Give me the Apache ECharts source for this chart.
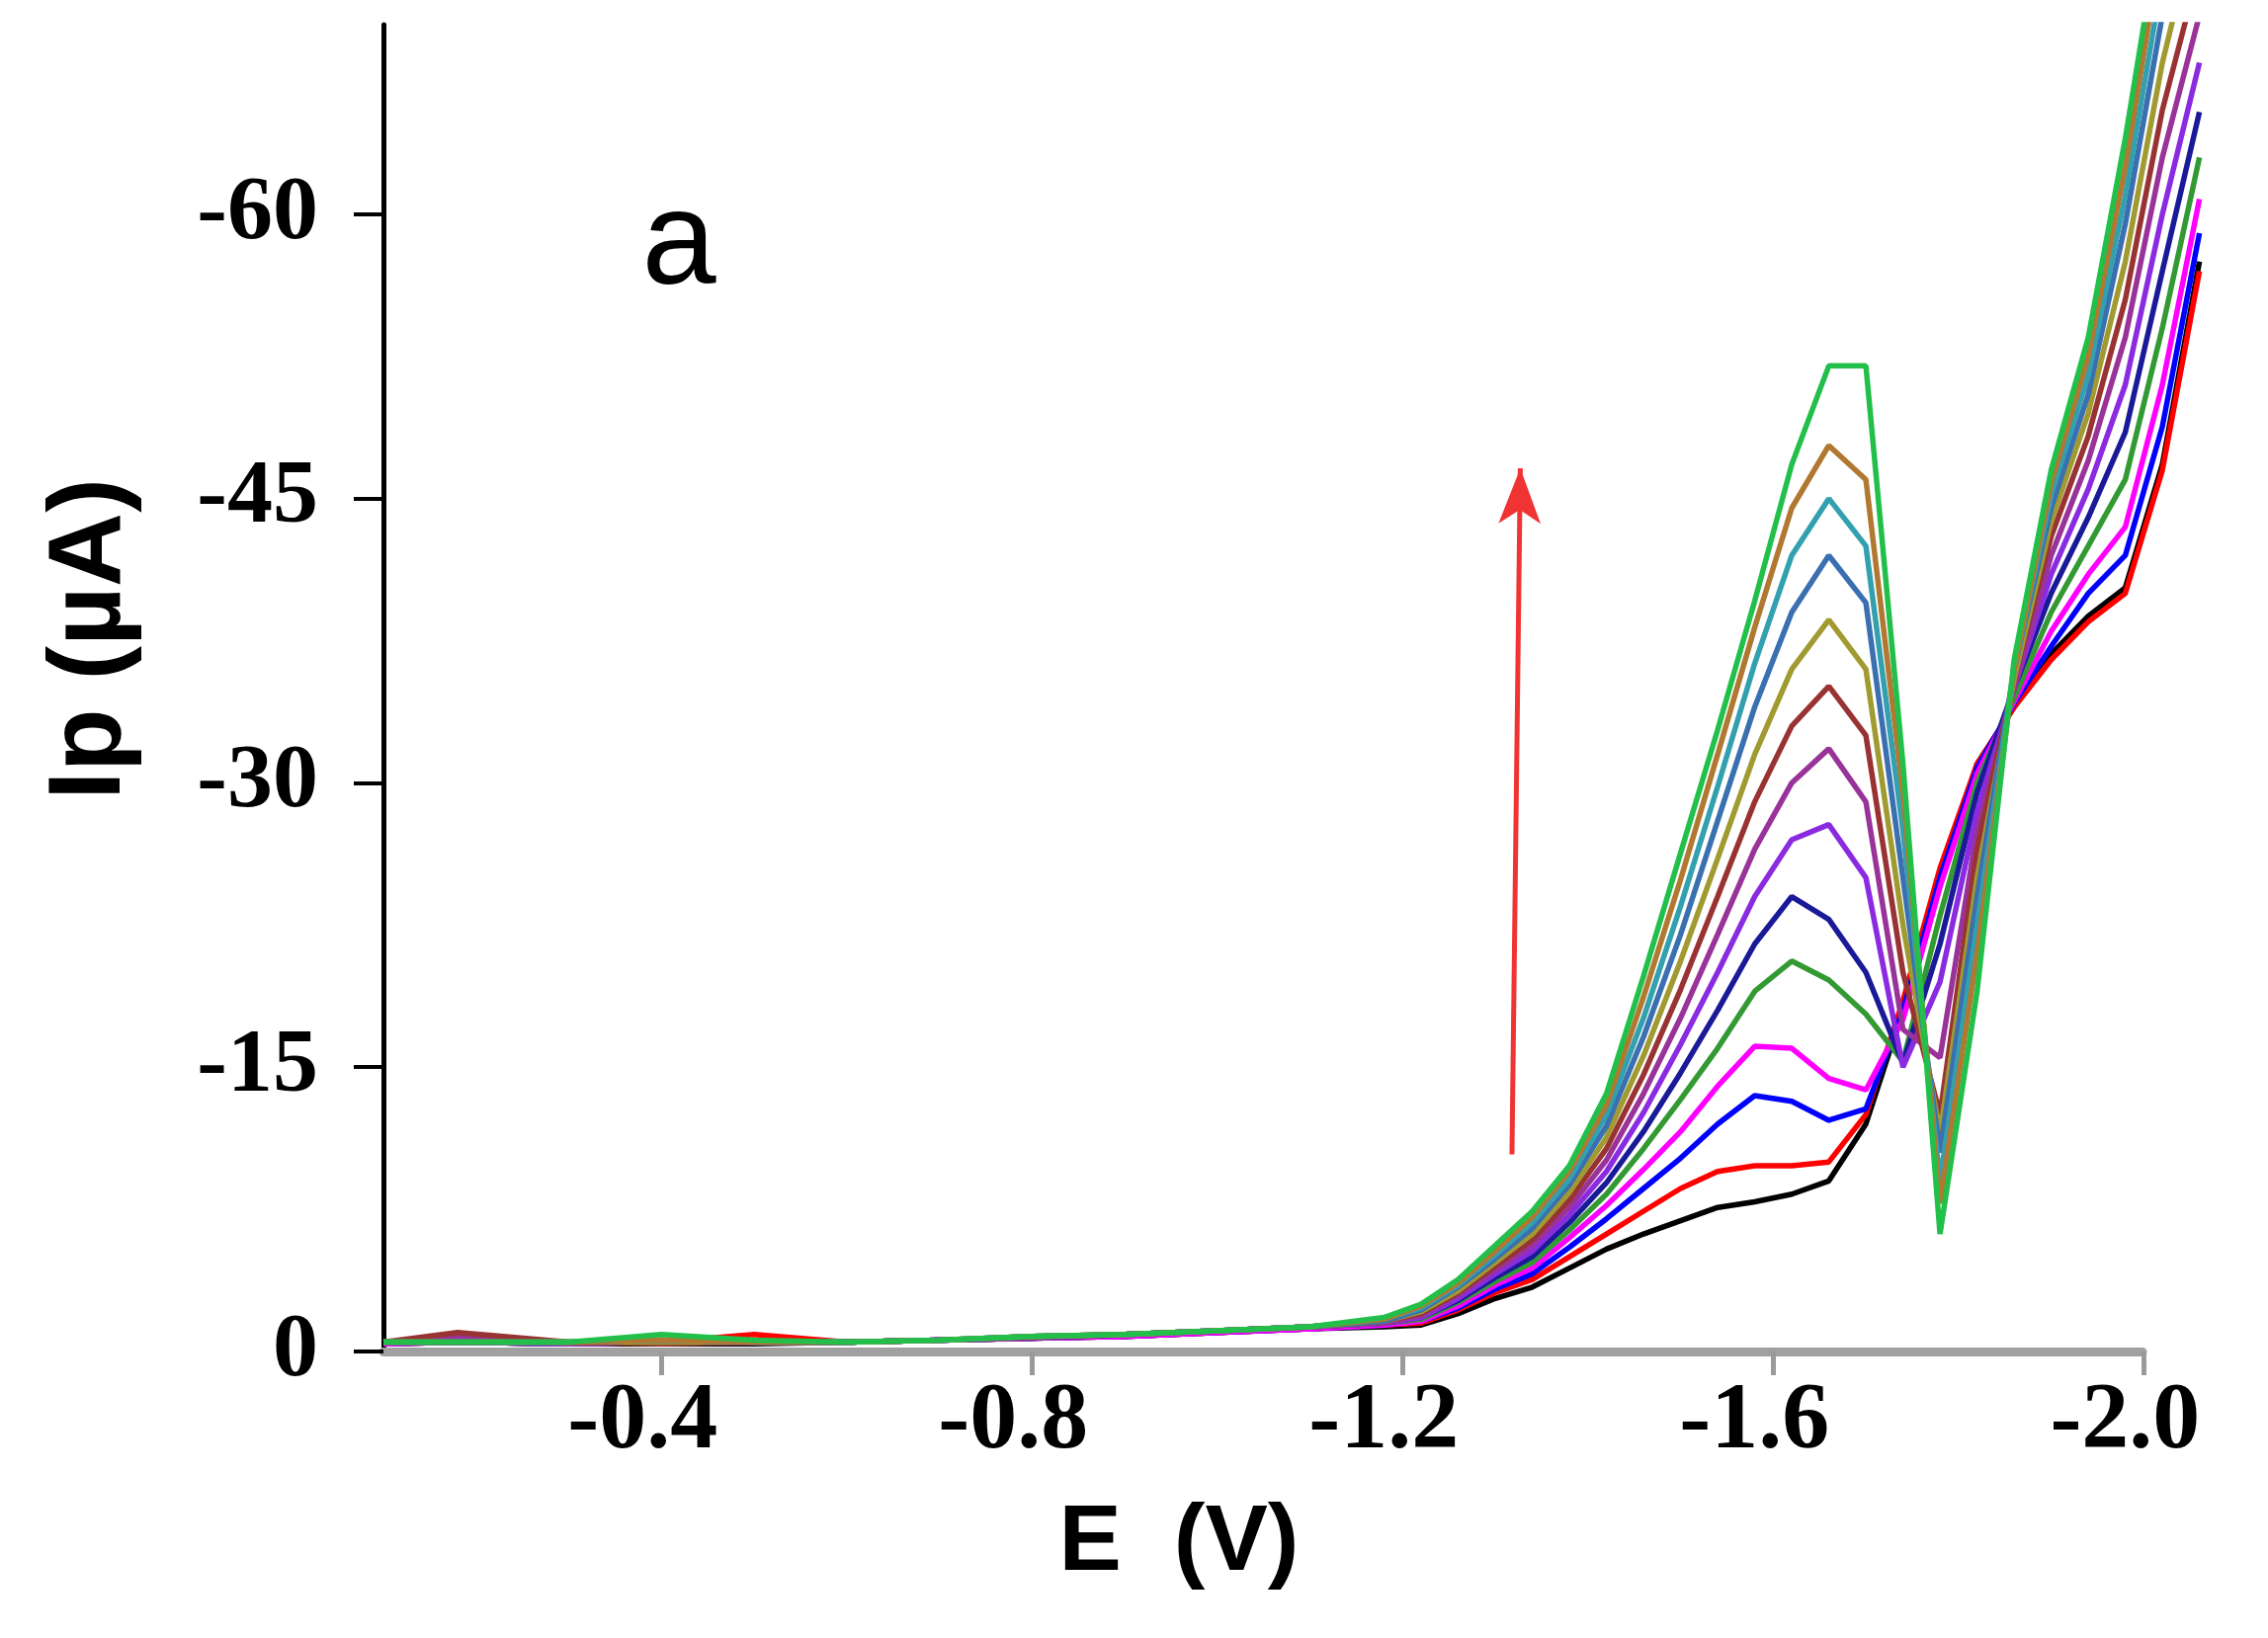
<!DOCTYPE html>
<html>
<head>
<meta charset="utf-8">
<title>E (V) vs Ip</title>
<script src="https://cdn.jsdelivr.net/npm/echarts@6.0.0/dist/echarts.min.js"></script>
<style>
  html, body { margin: 0; padding: 0; background: #fff; }
  #main { width: 2295px; height: 1658px; }
</style>
</head>
<body>
<div id="main"></div>
<script>
// potential (V), shared by every scan
var E = [-0.10, -0.18, -0.30, -0.40, -0.50, -0.60, -0.70, -0.80, -0.90, -1.00, -1.10, -1.18,
  -1.22, -1.26, -1.30, -1.34, -1.38, -1.42, -1.46, -1.50, -1.54, -1.58, -1.62, -1.66, -1.70,
  -1.74, -1.78, -1.82, -1.86, -1.90, -1.94, -1.98, -2.02, -2.06];

// current (uA), lowest peak first
var ipBlack = [-0.4, -0.5, -0.4, -0.4, -0.4, -0.5, -0.6, -0.7, -0.8, -1.0, -1.2, -1.3,
  -1.4, -2.0, -2.8, -3.4, -4.4, -5.4, -6.2, -6.9, -7.6, -7.9, -8.3, -9.0, -12.0,
  -18.0, -25.0, -31.0, -34.0, -36.8, -38.8, -40.3, -46.8, -57.5];
var ipRed = [-0.4, -0.5, -0.4, -0.5, -0.9, -0.5, -0.6, -0.7, -0.8, -1.0, -1.2, -1.4,
  -1.5, -2.2, -3.1, -3.8, -5.0, -6.2, -7.4, -8.6, -9.5, -9.8, -9.8, -10.0, -12.5,
  -18.5, -25.5, -31.0, -34.0, -36.5, -38.5, -40.0, -46.5, -57.0];
var ipBlue = [-0.4, -0.5, -0.4, -0.5, -0.5, -0.5, -0.6, -0.7, -0.8, -1.0, -1.2, -1.4,
  -1.6, -2.3, -3.3, -4.1, -5.5, -7.0, -8.6, -10.2, -12.0, -13.5, -13.2, -12.2, -12.8,
  -18.0, -25.0, -30.8, -34.2, -37.2, -40.0, -42.0, -48.8, -59.0];
var ipMagenta = [-0.4, -0.5, -0.4, -0.5, -0.5, -0.5, -0.6, -0.7, -0.8, -1.0, -1.2, -1.4,
  -1.6, -2.4, -3.5, -4.4, -6.0, -7.7, -9.6, -11.6, -14.0, -16.1, -16.0, -14.4, -13.8,
  -17.5, -24.5, -30.5, -34.3, -38.0, -41.0, -43.5, -51.0, -60.8];
var ipDarkGreen = [-0.5, -0.5, -0.4, -0.6, -0.5, -0.5, -0.6, -0.7, -0.9, -1.1, -1.3, -1.5,
  -1.7, -2.6, -3.7, -4.7, -6.4, -8.3, -10.7, -13.3, -16.0, -19.0, -20.6, -19.6, -17.8,
  -15.3, -23.0, -30.0, -34.5, -39.0, -42.5, -46.0, -54.0, -63.0];
var ipNavy = [-0.5, -0.5, -0.4, -0.5, -0.5, -0.5, -0.6, -0.7, -0.9, -1.1, -1.3, -1.5,
  -1.8, -2.7, -3.9, -5.0, -6.8, -8.9, -11.6, -14.7, -18.0, -21.5, -24.0, -22.8, -20.0,
  -15.2, -21.5, -29.5, -35.0, -40.0, -44.0, -48.5, -57.0, -65.4];
var ipViolet = [-0.5, -0.5, -0.4, -0.5, -0.5, -0.5, -0.6, -0.7, -0.9, -1.1, -1.3, -1.5,
  -1.8, -2.8, -4.1, -5.3, -7.2, -9.5, -12.6, -16.2, -20.0, -24.0, -27.0, -27.8, -25.0,
  -15.0, -19.5, -28.5, -35.0, -41.0, -45.5, -51.0, -60.0, -68.0];
var ipPurple = [-0.5, -0.8, -0.4, -0.5, -0.5, -0.5, -0.6, -0.7, -0.9, -1.1, -1.3, -1.5,
  -1.9, -3.0, -4.3, -5.6, -7.6, -10.1, -13.6, -17.6, -22.0, -26.5, -30.0, -31.8, -29.0,
  -17.0, -15.5, -27.5, -35.0, -42.0, -47.0, -53.5, -63.0, -70.5];
var ipDarkRed = [-0.5, -1.0, -0.5, -0.4, -0.5, -0.5, -0.6, -0.8, -0.9, -1.1, -1.3, -1.6,
  -2.0, -3.1, -4.5, -5.9, -8.0, -10.7, -14.6, -19.1, -24.0, -29.0, -33.0, -35.1, -32.5,
  -20.0, -12.5, -26.5, -35.5, -43.0, -48.3, -55.5, -65.5, -73.0];
var ipOlive = [-0.5, -0.5, -0.5, -0.5, -0.5, -0.5, -0.6, -0.8, -0.9, -1.1, -1.3, -1.6,
  -2.1, -3.2, -4.7, -6.2, -8.4, -11.3, -15.6, -20.6, -26.0, -31.5, -36.0, -38.6, -36.0,
  -22.5, -11.5, -25.0, -35.5, -43.8, -49.5, -57.5, -68.0, -76.0];
var ipSteel = [-0.5, -0.5, -0.5, -0.6, -0.5, -0.5, -0.6, -0.8, -0.9, -1.1, -1.3, -1.6,
  -2.2, -3.4, -4.9, -6.5, -8.8, -11.9, -16.6, -22.0, -28.0, -34.0, -39.0, -42.0, -39.5,
  -25.0, -10.5, -24.0, -36.0, -44.5, -50.5, -59.5, -70.5, -79.0];
var ipTeal = [-0.5, -0.5, -0.5, -0.6, -0.5, -0.5, -0.6, -0.8, -0.9, -1.1, -1.3, -1.7,
  -2.3, -3.5, -5.1, -6.8, -9.1, -12.5, -17.6, -23.5, -29.8, -36.3, -42.0, -45.0, -42.5,
  -27.5, -9.0, -22.5, -36.0, -45.2, -51.5, -61.0, -72.5, -81.0];
var ipBrown = [-0.5, -0.5, -0.5, -0.6, -0.5, -0.5, -0.6, -0.8, -0.9, -1.1, -1.3, -1.7,
  -2.4, -3.6, -5.3, -7.1, -9.5, -13.0, -18.7, -24.9, -31.5, -38.2, -44.5, -47.8, -46.0,
  -29.5, -7.8, -21.0, -36.0, -45.8, -52.5, -62.5, -74.5, -84.0];
var ipGreen = [-0.5, -0.5, -0.5, -0.9, -0.6, -0.5, -0.6, -0.8, -0.9, -1.1, -1.3, -1.8,
  -2.5, -3.8, -5.6, -7.4, -9.8, -13.6, -19.8, -26.3, -32.8, -39.6, -46.8, -52.0, -52.0,
  -31.0, -6.2, -19.0, -36.5, -46.5, -53.5, -64.0, -76.0, -87.0];

var scans = [ipBlack, ipRed, ipBlue, ipMagenta, ipDarkGreen, ipNavy, ipViolet,
  ipPurple, ipDarkRed, ipOlive, ipSteel, ipTeal, ipBrown, ipGreen];
var scanColors = ["#000000", "#ff0000", "#0000ff", "#ff00ff", "#339933", "#1a1a99", "#8a2be2",
  "#993399", "#993333", "#a09a30", "#3a6fb0", "#33a0b0", "#b07830", "#22c04a"];

// tick positions and labels
var xTicks = [-0.4, -0.8, -1.2, -1.6, -2.0];
var xTickLabels = ["-0.4", "-0.8", "-1.2", "-1.6", "-2.0"];
var yTicks = [0, -15, -30, -45, -60];
var yTickLabels = ["0", "-15", "-30", "-45", "-60"];

// arrow showing increasing concentration
var arrowFrom = [-1.318, -10.4];
var arrowTo = [-1.327, -46.6];

var myChart = echarts.init(document.getElementById("main"));

var series = scans.map(function(ip, i) {
  return {
    type: "line",
    xAxisIndex: 0,
    yAxisIndex: 0,
    data: E.map(function(e, j) {
      return [e, ip[j]];
    }),
    showSymbol: false,
    smooth: false,
    lineStyle: { color: scanColors[i], width: 5.5 },
    silent: true
  };
});

series.push({
  type: "line",
  xAxisIndex: 0,
  yAxisIndex: 0,
  data: [],
  silent: true,
  markLine: {
    silent: true,
    symbol: ["none", "arrow"],
    symbolSize: [32, 56],
    label: { show: false },
    lineStyle: { color: "#f03434", width: 5, type: "solid" },
    data: [[{ coord: arrowFrom }, { coord: arrowTo }]]
  }
});

var tickFont = {
  color: "#000",
  fontFamily: "Liberation Serif",
  fontWeight: "bold"
};

var option = {
  animation: false,
  backgroundColor: "#fff",
  grid: [
    { left: 388, right: 60, top: 25, bottom: 290 },
    // only carries the grey x axis line, which stops at -2.0
    { left: 388, right: 127, top: 25, bottom: 290 }
  ],
  xAxis: [
    {
      type: "value",
      gridIndex: 0,
      min: -2.07,
      max: -0.1,
      inverse: true,
      axisLine: { show: false },
      splitLine: { show: false },
      axisTick: {
        show: true,
        customValues: xTicks,
        length: 24,
        lineStyle: { color: "#9a9a9a", width: 5 }
      },
      axisLabel: Object.assign({
        customValues: xTicks,
        fontSize: 96,
        margin: 24,
        padding: [0, 38, 0, 0],
        formatter: function(v) {
          return xTickLabels[xTicks.indexOf(v)];
        }
      }, tickFont)
    },
    {
      type: "value",
      gridIndex: 1,
      min: -2.0,
      max: -0.1,
      inverse: true,
      axisLine: { show: true, onZero: false, lineStyle: { color: "#a0a0a0", width: 9 } },
      axisTick: { show: false },
      axisLabel: { show: false },
      splitLine: { show: false }
    }
  ],
  yAxis: [
    {
      type: "value",
      gridIndex: 0,
      min: -70,
      max: 0,
      inverse: true,
      axisLine: { show: true, onZero: false, lineStyle: { color: "#000", width: 5 } },
      splitLine: { show: false },
      axisTick: {
        show: true,
        customValues: yTicks,
        length: 30,
        lineStyle: { color: "#000", width: 4 }
      },
      axisLabel: Object.assign({
        customValues: yTicks,
        fontSize: 92,
        margin: 66,
        formatter: function(v) {
          return yTickLabels[yTicks.indexOf(v)];
        }
      }, tickFont)
    },
    {
      type: "value",
      gridIndex: 1,
      min: -70,
      max: 0,
      inverse: true,
      show: false
    }
  ],
  graphic: [
    {
      type: "text",
      x: 687,
      y: 250,
      style: {
        text: "a",
        font: 'normal 135px "Liberation Sans"',
        fill: "#000",
        textAlign: "center",
        textVerticalAlign: "middle"
      }
    },
    {
      type: "text",
      x: 92,
      y: 647,
      rotation: Math.PI / 2,
      style: {
        text: "Ip (\u00b5A)",
        font: 'bold 104px "Liberation Sans"',
        fill: "#000",
        textAlign: "center",
        textVerticalAlign: "middle"
      }
    },
    {
      type: "text",
      x: 1193,
      y: 1563,
      style: {
        text: "E  (V)",
        font: 'bold 95px "Liberation Sans"',
        fill: "#000",
        textAlign: "center",
        textVerticalAlign: "middle"
      }
    }
  ],
  series: series
};

myChart.setOption(option);
</script>
</body>
</html>
